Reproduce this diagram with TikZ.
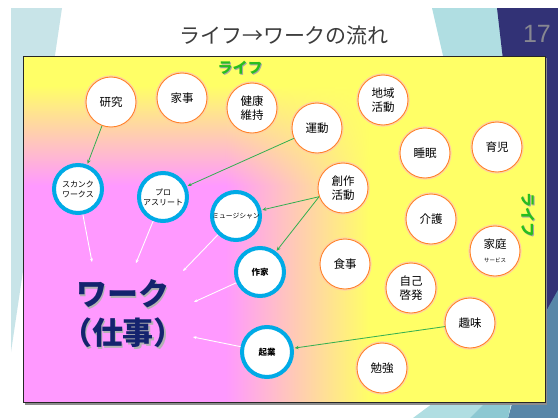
\documentclass[tikz,border=0pt]{standalone}
\usepackage{fontspec}
\setmainfont{Liberation Sans}
\newfontfamily\jp{Noto Sans CJK JP}
\usetikzlibrary{arrows.meta}
\definecolor{ylw}{RGB}{255,255,102}
\definecolor{pnk}{RGB}{255,153,255}
\definecolor{lorange}{RGB}{255,130,40}
\definecolor{lglow}{RGB}{255,208,165}
\definecolor{wblue}{RGB}{0,170,230}
\definecolor{garrowc}{RGB}{50,175,80}
\definecolor{navy}{RGB}{50,50,118}
\definecolor{teal1}{RGB}{200,228,232}
\definecolor{teal2}{RGB}{176,222,226}
\definecolor{teal3}{RGB}{140,200,210}
\definecolor{steel}{RGB}{88,135,168}
\definecolor{worknavy}{RGB}{20,35,110}
\definecolor{lifegreen}{RGB}{40,190,30}
\definecolor{titlegray}{RGB}{60,60,60}
\definecolor{numgray}{RGB}{135,135,145}
\tikzset{
  life/.style={circle, draw=lorange, line width=0.9pt, fill=white,
    minimum size=50pt, inner sep=0pt, align=center,
    font=\jp\fontsize{11.5}{13.5}\selectfont,
    preaction={draw=lglow, line width=3.2pt}},
  work/.style={circle, draw=wblue, line width=4pt, fill=white,
    minimum size=48pt, inner sep=0pt, align=center,
    font=\jp\fontsize{8}{10}\selectfont},
  garrow/.style={draw=garrowc, line width=0.8pt, -{Stealth[length=4pt,width=3.5pt]}, shorten >=1pt},
  warrow/.style={draw=white, line width=0.9pt, -{Stealth[length=3.5pt,width=3pt]}},
  lifelbl/.style={font=\jp\bfseries\fontsize{15}{16}\selectfont, text=lifegreen},
}
\begin{document}
\begin{tikzpicture}[x=1pt,y=-1pt]
\useasboundingbox (0,0) rectangle (558,418);
\fill[white] (0,0) rectangle (558,418);
% slide decorations
\fill[teal1] (11,8) -- (62,8) -- (11,352) -- cycle;
\fill[teal2] (432,8) -- (498,8) -- (503,60) -- (444,60) -- cycle;
\fill[navy] (497,8) -- (558,8) -- (558,300) -- (540,330) -- (503,60) -- cycle;
\fill[steel] (558,290) -- (558,418) -- (508,418) -- (530,340) -- cycle;
\fill[teal2] (413,418) -- (440,398) -- (512,398) -- (508,418) -- cycle;
\fill[teal3] (470,418) -- (490,398) -- (512,398) -- (508,418) -- cycle;
% title
\node[font=\jp\fontsize{21}{24}\selectfont, text=titlegray] (title) at (284,35) {ライフ→ワークの流れ};
\node[font=\fontsize{25}{28}\selectfont, text=numgray] (num) at (537,34) {17};
% frame with gradient
\fill[black!45] (25,58) rectangle (547,404.5);
\fill[ylw] (23,56) rectangle (545,402);
\foreach \yy in {85,87,...,193} {
  \pgfmathtruncatemacro\pp{min(100,max(0,100*(\yy-85)/100))}
  \fill[pnk!\pp!ylw] (23,\yy) rectangle (226,\yy+2.4);
  \shade[left color=pnk!\pp!ylw, right color=ylw] (225.5,\yy) rectangle (370,\yy+2.4);
}
\fill[pnk] (23,195) rectangle (226,402);
\shade[left color=pnk, right color=ylw] (225.5,195) rectangle (370,402);
\draw[black!85, line width=0.8pt] (23,56) rectangle (545,402);
% life labels
\node[lifelbl, text=black!35] at (241,69) {ライフ};
\node[lifelbl] (lifetop) at (240,68) {ライフ};
\node[lifelbl, rotate=-90, text=black!35] at (529,216) {ライフ};
\node[lifelbl, rotate=-90] (liferight) at (528,215) {ライフ};
% work label
\node[font=\jp\bfseries\fontsize{31}{39}\selectfont, text=black!30, align=center] at (124.5,315.5) {ワーク\\（仕事）};
\node[font=\jp\bfseries\fontsize{31}{39}\selectfont, text=worknavy, align=center] (work) at (123,314) {ワーク\\（仕事）};
% life circles
\node[life] (kenkyu) at (111,102) {研究};
\node[life] (kaji) at (182,98) {家事};
\node[life] (kenko) at (252,108) {健康\\維持};
\node[life] (undo) at (317,128) {運動};
\node[life] (chiiki) at (383,100) {地域\\活動};
\node[life] (suimin) at (425,153) {睡眠};
\node[life] (ikuji) at (497,147) {育児};
\node[life] (sosaku) at (343,188) {創作\\活動};
\node[life] (kaigo) at (431,219) {介護};
\node[life] (katei) at (495,251) {家庭\\{\fontsize{5.5}{7}\selectfont サービス}};
\node[life] (shokuji) at (345,264) {食事};
\node[life] (jiko) at (411,288) {自己\\啓発};
\node[life] (shumi) at (470,323) {趣味};
\node[life] (benkyo) at (382,368) {勉強};
% work circles
\node[work, align=left] (skunk) at (78,189) {スカンク\\ワークス};
\node[work] (pro) at (163,197) {プロ\\アスリート};
\node[work, font=\jp\fontsize{6.8}{8}\selectfont] (music) at (236,216) {ミュージシャン};
\node[work, font=\jp\bfseries\fontsize{8.5}{10}\selectfont] (sakka) at (260,272) {作家};
\node[work, font=\jp\bfseries\fontsize{8.5}{10}\selectfont, minimum size=50pt] (kigyo) at (267,352) {起業};
% green arrows
\draw[garrow] (kenkyu) -- (skunk);
\draw[garrow] (undo) -- (pro);
\draw[garrow] (sosaku.200) -- (music);
\draw[garrow] (sosaku.200) -- (sakka);
\draw[garrow] (shumi) -- (kigyo);
% white arrows
\coordinate (w1) at (92,262);
\coordinate (w2) at (136,263);
\coordinate (w3) at (183,271);
\coordinate (w4) at (194,302);
\coordinate (w5) at (193,337);
\draw[warrow] (skunk) -- (w1);
\draw[warrow] (pro) -- (w2);
\draw[warrow] (music) -- (w3);
\draw[warrow] (sakka) -- (w4);
\draw[warrow] (kigyo) -- (w5);
\end{tikzpicture}
\end{document}
